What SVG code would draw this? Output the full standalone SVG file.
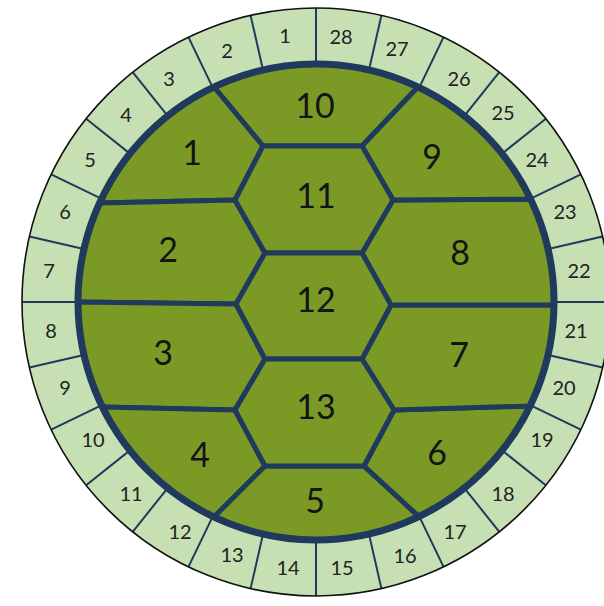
<svg xmlns="http://www.w3.org/2000/svg" xmlns:xlink="http://www.w3.org/1999/xlink" width="604" height="606" viewBox="0 0 604 606">
<style>
.seg{fill:#c6e0b4;stroke:none}
.rl{font-family:Lato,"Open Sans","Liberation Sans",sans-serif;font-size:20px;fill:#222;text-anchor:middle}
.sc{fill:#7a9a25;stroke:#1f3a5c;stroke-width:5;stroke-linejoin:round}
.sl{font-family:Lato,"Open Sans","Liberation Sans",sans-serif;font-size:34px;fill:#141414;text-anchor:middle}
.div{stroke:#1f3a5c;stroke-width:2}
</style>
<defs>
<path id="sector" class="seg" d="M316,8 A294,294 0 0 0 250.58,15.37 L263.04,69.97 A238,238 0 0 1 316,64 Z"/>
</defs>
<rect width="604" height="606" fill="#fff"/>
<g id="ring">
<g id="m1"><use xlink:href="#sector" href="#sector"/><text class="rl" x="285" y="43">1</text></g>
<g id="m2"><use xlink:href="#sector" href="#sector" transform="rotate(-12.857143 316 302)"/><text class="rl" x="227" y="58">2</text></g>
<g id="m3"><use xlink:href="#sector" href="#sector" transform="rotate(-25.714286 316 302)"/><text class="rl" x="169" y="86">3</text></g>
<g id="m4"><use xlink:href="#sector" href="#sector" transform="rotate(-38.571429 316 302)"/><text class="rl" x="126" y="122">4</text></g>
<g id="m5"><use xlink:href="#sector" href="#sector" transform="rotate(-51.428571 316 302)"/><text class="rl" x="90" y="167">5</text></g>
<g id="m6"><use xlink:href="#sector" href="#sector" transform="rotate(-64.285714 316 302)"/><text class="rl" x="65" y="219">6</text></g>
<g id="m7"><use xlink:href="#sector" href="#sector" transform="rotate(-77.142857 316 302)"/><text class="rl" x="49" y="278">7</text></g>
<g id="m8"><use xlink:href="#sector" href="#sector" transform="rotate(-90 316 302)"/><text class="rl" x="51" y="338">8</text></g>
<g id="m9"><use xlink:href="#sector" href="#sector" transform="rotate(-102.857143 316 302)"/><text class="rl" x="65" y="395">9</text></g>
<g id="m10"><use xlink:href="#sector" href="#sector" transform="rotate(-115.714286 316 302)"/><text class="rl" x="93" y="447">10</text></g>
<g id="m11"><use xlink:href="#sector" href="#sector" transform="rotate(-128.571429 316 302)"/><text class="rl" x="131" y="501">11</text></g>
<g id="m12"><use xlink:href="#sector" href="#sector" transform="rotate(-141.428571 316 302)"/><text class="rl" x="180" y="539">12</text></g>
<g id="m13"><use xlink:href="#sector" href="#sector" transform="rotate(-154.285714 316 302)"/><text class="rl" x="232" y="562">13</text></g>
<g id="m14"><use xlink:href="#sector" href="#sector" transform="rotate(-167.142857 316 302)"/><text class="rl" x="288" y="575">14</text></g>
<g id="m15"><use xlink:href="#sector" href="#sector" transform="rotate(-180 316 302)"/><text class="rl" x="342" y="575">15</text></g>
<g id="m16"><use xlink:href="#sector" href="#sector" transform="rotate(-192.857143 316 302)"/><text class="rl" x="405" y="563">16</text></g>
<g id="m17"><use xlink:href="#sector" href="#sector" transform="rotate(-205.714286 316 302)"/><text class="rl" x="455" y="539">17</text></g>
<g id="m18"><use xlink:href="#sector" href="#sector" transform="rotate(-218.571429 316 302)"/><text class="rl" x="503" y="501">18</text></g>
<g id="m19"><use xlink:href="#sector" href="#sector" transform="rotate(-231.428571 316 302)"/><text class="rl" x="542" y="447">19</text></g>
<g id="m20"><use xlink:href="#sector" href="#sector" transform="rotate(-244.285714 316 302)"/><text class="rl" x="564" y="395">20</text></g>
<g id="m21"><use xlink:href="#sector" href="#sector" transform="rotate(-257.142857 316 302)"/><text class="rl" x="576" y="338">21</text></g>
<g id="m22"><use xlink:href="#sector" href="#sector" transform="rotate(-270 316 302)"/><text class="rl" x="579" y="278">22</text></g>
<g id="m23"><use xlink:href="#sector" href="#sector" transform="rotate(-282.857143 316 302)"/><text class="rl" x="565" y="219">23</text></g>
<g id="m24"><use xlink:href="#sector" href="#sector" transform="rotate(-295.714286 316 302)"/><text class="rl" x="537" y="167">24</text></g>
<g id="m25"><use xlink:href="#sector" href="#sector" transform="rotate(-308.571429 316 302)"/><text class="rl" x="503" y="120">25</text></g>
<g id="m26"><use xlink:href="#sector" href="#sector" transform="rotate(-321.428571 316 302)"/><text class="rl" x="459" y="86">26</text></g>
<g id="m27"><use xlink:href="#sector" href="#sector" transform="rotate(-334.285714 316 302)"/><text class="rl" x="397" y="56">27</text></g>
<g id="m28"><use xlink:href="#sector" href="#sector" transform="rotate(-347.142857 316 302)"/><text class="rl" x="341" y="44">28</text></g>
</g>
<g id="connectors">
<g class="div">
<line x1="316" y1="8" x2="316" y2="66"/>
<line x1="316" y1="8" x2="316" y2="66" transform="rotate(12.857143 316 302)"/>
<line x1="316" y1="8" x2="316" y2="66" transform="rotate(25.714286 316 302)"/>
<line x1="316" y1="8" x2="316" y2="66" transform="rotate(38.571429 316 302)"/>
<line x1="316" y1="8" x2="316" y2="66" transform="rotate(51.428571 316 302)"/>
<line x1="316" y1="8" x2="316" y2="66" transform="rotate(64.285714 316 302)"/>
<line x1="316" y1="8" x2="316" y2="66" transform="rotate(77.142857 316 302)"/>
<line x1="316" y1="8" x2="316" y2="66" transform="rotate(90 316 302)"/>
<line x1="316" y1="8" x2="316" y2="66" transform="rotate(102.857143 316 302)"/>
<line x1="316" y1="8" x2="316" y2="66" transform="rotate(115.714286 316 302)"/>
<line x1="316" y1="8" x2="316" y2="66" transform="rotate(128.571429 316 302)"/>
<line x1="316" y1="8" x2="316" y2="66" transform="rotate(141.428571 316 302)"/>
<line x1="316" y1="8" x2="316" y2="66" transform="rotate(154.285714 316 302)"/>
<line x1="316" y1="8" x2="316" y2="66" transform="rotate(167.142857 316 302)"/>
<line x1="316" y1="8" x2="316" y2="66" transform="rotate(180 316 302)"/>
<line x1="316" y1="8" x2="316" y2="66" transform="rotate(192.857143 316 302)"/>
<line x1="316" y1="8" x2="316" y2="66" transform="rotate(205.714286 316 302)"/>
<line x1="316" y1="8" x2="316" y2="66" transform="rotate(218.571429 316 302)"/>
<line x1="316" y1="8" x2="316" y2="66" transform="rotate(231.428571 316 302)"/>
<line x1="316" y1="8" x2="316" y2="66" transform="rotate(244.285714 316 302)"/>
<line x1="316" y1="8" x2="316" y2="66" transform="rotate(257.142857 316 302)"/>
<line x1="316" y1="8" x2="316" y2="66" transform="rotate(270 316 302)"/>
<line x1="316" y1="8" x2="316" y2="66" transform="rotate(282.857143 316 302)"/>
<line x1="316" y1="8" x2="316" y2="66" transform="rotate(295.714286 316 302)"/>
<line x1="316" y1="8" x2="316" y2="66" transform="rotate(308.571429 316 302)"/>
<line x1="316" y1="8" x2="316" y2="66" transform="rotate(321.428571 316 302)"/>
<line x1="316" y1="8" x2="316" y2="66" transform="rotate(334.285714 316 302)"/>
<line x1="316" y1="8" x2="316" y2="66" transform="rotate(347.142857 316 302)"/>
</g>
<circle cx="316" cy="302" r="294" fill="none" stroke="#111" stroke-width="1.6"/>
</g>
<g id="shell">
<g id="s10"><path class="sc" d="M214,87 L263,146 L362,146 L418,87 A238,238 0 0 0 214,87 Z"/><text class="sl" x="315" y="118">10</text></g>
<g id="s1"><path class="sc" d="M214,87 A238,238 0 0 0 99.6,203 L235,200 L263,146 Z"/><text class="sl" x="192" y="165">1</text></g>
<g id="s2"><path class="sc" d="M99.6,203 A238,238 0 0 0 78,302 L236,304 L265,253 L235,200 Z"/><text class="sl" x="168" y="262">2</text></g>
<g id="s3"><path class="sc" d="M78,302 A238,238 0 0 0 102.4,407 L235,410 L265,359 L236,304 Z"/><text class="sl" x="163" y="365">3</text></g>
<g id="s4"><path class="sc" d="M102.4,407 A238,238 0 0 0 214,517 L265,466 L235,410 Z"/><text class="sl" x="200" y="467">4</text></g>
<g id="s5"><path class="sc" d="M214,517 A238,238 0 0 0 419,516.6 L364,466 L265,466 Z"/><text class="sl" x="315" y="513">5</text></g>
<g id="s6"><path class="sc" d="M419,516.6 A238,238 0 0 0 530.1,406 L394,410 L364,466 Z"/><text class="sl" x="437" y="465">6</text></g>
<g id="s7"><path class="sc" d="M530.1,406 A238,238 0 0 0 554,305 L391,305 L362,359 L394,410 Z"/><text class="sl" x="459" y="367">7</text></g>
<g id="s8"><path class="sc" d="M554,305 A238,238 0 0 0 530.6,199 L393,200 L362,253 L391,305 Z"/><text class="sl" x="460" y="265">8</text></g>
<g id="s9"><path class="sc" d="M530.6,199 A238,238 0 0 0 418,87 L362,146 L393,200 Z"/><text class="sl" x="432" y="169">9</text></g>
<g id="s11"><path class="sc" d="M263,146 L362,146 L393,200 L362,253 L265,253 L235,200 Z"/><text class="sl" x="316" y="208">11</text></g>
<g id="s12"><path class="sc" d="M265,253 L362,253 L391,305 L362,359 L265,359 L236,304 Z"/><text class="sl" x="316" y="312">12</text></g>
<g id="s13"><path class="sc" d="M265,359 L362,359 L394,410 L364,466 L265,466 L235,410 Z"/><text class="sl" x="316" y="419">13</text></g>
<circle cx="316" cy="302" r="238" fill="none" stroke="#1f3a5c" stroke-width="7"/>
</g>
</svg>
